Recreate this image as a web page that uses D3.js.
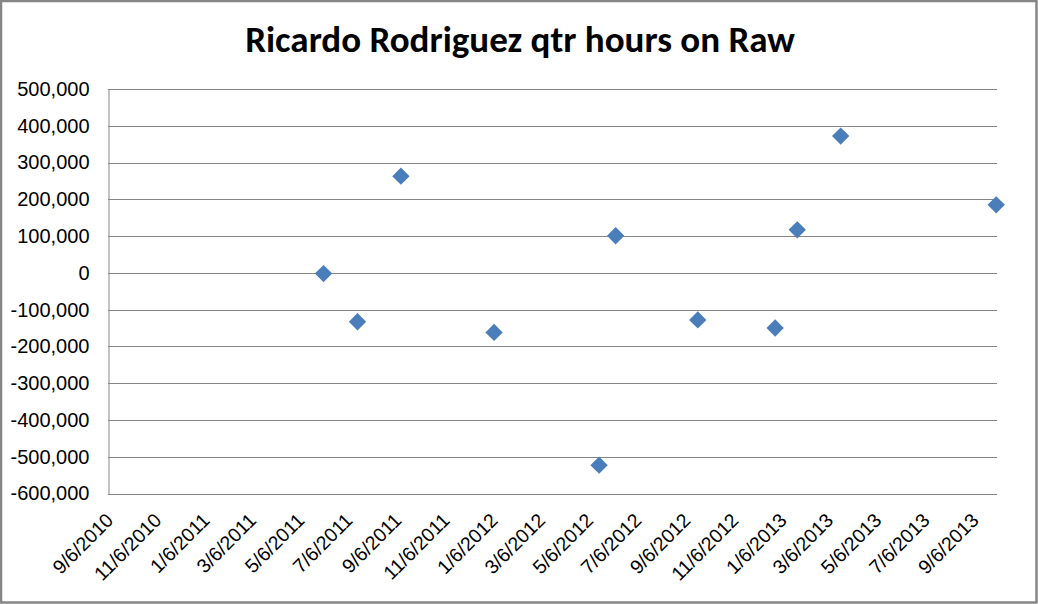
<!DOCTYPE html>
<html>
<head>
<meta charset="utf-8">
<script src="https://cdn.jsdelivr.net/npm/d3@7"></script>
<style>
  body { margin: 0; background: #fff; }
  svg { display: block; font-family: Carlito, Calibri, Lato, sans-serif; }
  .grid line { stroke: #868686; stroke-width: 1; }
</style>
</head>
<body>
<svg id="chart" width="1038" height="604"></svg>
<script>
// data
const dates = ['6/6/2011', '7/19/2011', '9/12/2011', '1/8/2012', '5/20/2012', '6/10/2012',
  '9/22/2012', '12/29/2012', '1/26/2013', '3/22/2013', '10/5/2013'];
const values = [-2000, -133000, 263000, -162000, -523000, 101000,
  -128000, -150000, 117000, 372000, 185000];

const xTickLabels = ['9/6/2010', '11/6/2010', '1/6/2011', '3/6/2011', '5/6/2011', '7/6/2011',
  '9/6/2011', '11/6/2011', '1/6/2012', '3/6/2012', '5/6/2012', '7/6/2012', '9/6/2012',
  '11/6/2012', '1/6/2013', '3/6/2013', '5/6/2013', '7/6/2013', '9/6/2013'];
const yTicks = [500000, 400000, 300000, 200000, 100000, 0, -100000, -200000,
  -300000, -400000, -500000, -600000];
const xMin = '9/6/2010', xMax = '10/6/2013';

const parse = d3.timeParse('%m/%d/%Y');
const fmtDate = d3.timeFormat('%-m/%-d/%Y');
const locale = d3.formatLocale({decimal: '.', thousands: ',', grouping: [3], currency: ['$', ''], minus: '-'});
const fmtNum = locale.format(',');

const svg = d3.select('#chart');
const W = 1038, H = 604;
const plot = {left: 108, right: 997, top: 89, bottom: 493.5};

// outer frame
svg.append('rect')
  .attr('x', 1).attr('y', 1).attr('width', W - 2.5).attr('height', H - 2.5)
  .attr('fill', '#fff').attr('stroke', '#868686').attr('stroke-width', 2.5);

const x = d3.scaleTime().domain([parse(xMin), parse(xMax)]).range([plot.left, plot.right]);
const y = d3.scaleLinear().domain([-600000, 500000]).range([plot.bottom, plot.top]);

// gridlines
svg.append('g').attr('class', 'grid')
  .selectAll('line')
  .data(yTicks)
  .enter().append('line')
  .attr('x1', plot.left).attr('x2', plot.right)
  .attr('y1', d => Math.round(y(d)) + 0.5).attr('y2', d => Math.round(y(d)) + 0.5);

// y axis
const yAxis = svg.append('g')
  .attr('transform', 'translate(' + (plot.left + 0.5) + ',0)')
  .call(d3.axisLeft(y).tickValues(yTicks).tickFormat(fmtNum).tickSize(0).tickPadding(19));
yAxis.select('.domain').attr('stroke', '#868686');
yAxis.selectAll('text').style('font-size', '20px').attr('fill', '#000');

// x axis
const xAxis = svg.append('g')
  .attr('transform', 'translate(0,' + plot.bottom + ')')
  .call(d3.axisBottom(x).tickValues(xTickLabels.map(parse)).tickFormat(fmtDate).tickSize(0));
xAxis.select('.domain').remove();
xAxis.selectAll('text')
  .style('font-size', '19.5px')
  .attr('fill', '#000')
  .attr('text-anchor', 'end')
  .attr('y', 0).attr('dy', 0)
  .attr('transform', 'translate(6,28) rotate(-45)');

// points
svg.append('g')
  .selectAll('path')
  .data(dates.map((d, i) => [parse(d), values[i]]))
  .enter().append('path')
  .attr('d', d3.symbol().type(d3.symbolSquare).size(150))
  .attr('transform', d => 'translate(' + x(d[0]) + ',' + y(d[1]) + ') rotate(45)')
  .attr('fill', '#4a7ebb');

// title
const title = svg.append('text')
  .attr('x', 520).attr('y', 52)
  .attr('text-anchor', 'middle')
  .style('font-weight', 'bold')
  .style('font-size', '32px')
  .text('Ricardo Rodriguez qtr hours on Raw');
const tw = title.node().getComputedTextLength();
title.style('font-size', (32 * 550 / tw) + 'px');
</script>
</body>
</html>
